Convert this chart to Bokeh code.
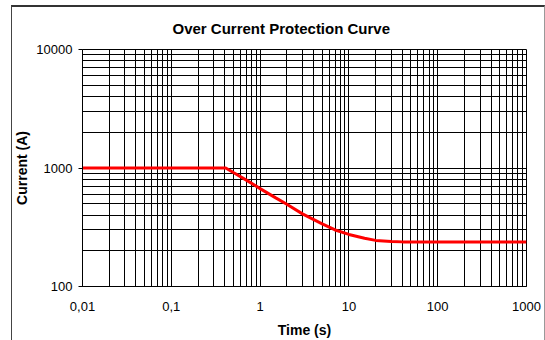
from bokeh.plotting import figure
from bokeh.models import FixedTicker, InlineStyleSheet
from bokeh.embed import file_html
from bokeh.resources import INLINE

# Data
time_s = [0.01, 0.41, 0.5, 0.7, 1.0, 1.5, 2.0, 3.0, 5.0, 7.0, 10.0, 15.0, 20.0, 30.0, 40.0, 100.0, 1000.0]
current_a = [1000, 1000, 915, 790, 670, 560, 495, 410, 338, 300, 275, 255, 245, 240, 238, 238, 238]

x_ticks = [0.01, 0.1, 1, 10, 100, 1000]
x_tick_labels = ["0,01", "0,1", "1", "10", "100", "1000"]
y_ticks = [100, 1000, 10000]
y_tick_labels = ["100", "1000", "10000"]

x_minor = [m * 10.0 ** k for k in range(-2, 3) for m in range(2, 10)]
y_minor = [m * 10.0 ** k for k in range(2, 4) for m in range(2, 10)]

FONT = "Liberation Sans"

p = figure(width=545, height=340, x_axis_type="log", y_axis_type="log",
           x_range=(0.01, 1000), y_range=(100, 10000),
           output_backend="svg", toolbar_location=None,
           min_border_left=82, min_border_right=19,
           min_border_top=49, min_border_bottom=54)

# chart-area border drawn as an overlay pseudo-element
p.stylesheets = [InlineStyleSheet(css="""
:host::after {
  content: "";
  position: absolute;
  left: 11px; top: 5px; width: 534px; height: 400px;
  border-left: 1px solid #444444;
  border-top: 2px solid #333333;
  border-right: 1px solid #999999;
  box-sizing: border-box;
  pointer-events: none;
}
""")]

p.title.text = "Over Current Protection Curve"
p.title.align = "left"
p.title.offset = 90
p.title.standoff = 25
p.title.text_font = FONT
p.title.text_font_size = "15px"
p.title.text_font_style = "bold"
p.title.text_color = "black"

p.line(time_s, current_a, line_color="#ff0000", line_width=3)

p.outline_line_color = "black"
p.outline_line_width = 1
p.outline_line_alpha = 1

p.xaxis.ticker = FixedTicker(ticks=x_ticks, minor_ticks=x_minor)
p.yaxis.ticker = FixedTicker(ticks=y_ticks, minor_ticks=y_minor)
p.xaxis.major_label_overrides = {t: l for t, l in zip(x_ticks, x_tick_labels)}
p.yaxis.major_label_overrides = {t: l for t, l in zip(y_ticks, y_tick_labels)}

for g in (p.xgrid, p.ygrid):
    g.grid_line_color = "black"
    g.grid_line_alpha = 1
    g.grid_line_width = 1
    g.minor_grid_line_color = "black"
    g.minor_grid_line_alpha = 1
    g.minor_grid_line_width = 1

for ax in (p.xaxis, p.yaxis):
    ax.axis_line_color = "black"
    ax.major_tick_line_color = "black"
    ax.minor_tick_in = 0
    ax.minor_tick_out = 0
    ax.major_tick_in = 0
    ax.major_label_text_font = FONT
    ax.major_label_text_font_size = "13px"
    ax.major_label_text_color = "black"
    ax.axis_label_text_font = FONT
    ax.axis_label_text_font_size = "14px"
    ax.axis_label_text_font_style = "bold"
    ax.axis_label_text_color = "black"

p.xaxis.axis_label = "Time (s)"
p.xaxis.major_tick_out = 0
p.xaxis.major_label_standoff = 15
p.xaxis.axis_label_standoff = 8

p.yaxis.axis_label = "Current (A)"
p.yaxis.major_tick_out = 4
p.yaxis.major_label_standoff = 6
p.yaxis.axis_label_standoff = 3
p.yaxis.major_label_orientation = "horizontal"

p.background_fill_color = "white"
p.border_fill_color = "white"

open("out.html", "w").write(file_html(p, INLINE))
